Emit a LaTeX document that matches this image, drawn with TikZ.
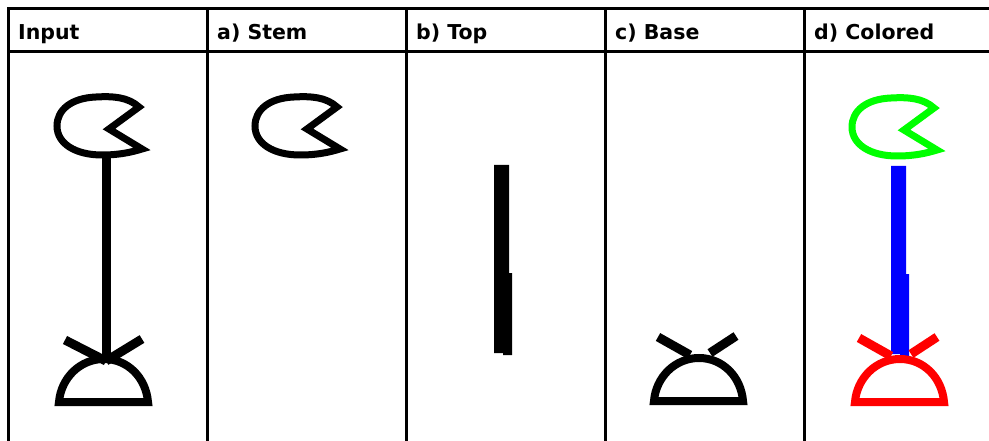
\documentclass[tikz,border=0pt]{standalone}
\usepackage{fontspec}
\setmainfont{DejaVu Sans}
\definecolor{pureGreen}{RGB}{0,255,0}
\definecolor{pureBlue}{RGB}{0,0,255}
\definecolor{pureRed}{RGB}{255,0,0}
\begin{document}
\begin{tikzpicture}[x=1pt,y=-1pt,
  grid/.style={line width=3pt, black},
  hdr/.style={anchor=base west, inner sep=0pt, font=\bfseries\fontsize{20.5}{24}\selectfont},
  headline/.style={line width=7pt, line join=miter},
  rod/.style={line width=9pt},
  armline/.style={line width=9pt},
  domeline/.style={line width=8pt, line join=miter},
  % the round head with its notch
  pics/head/.style={code={
    \draw[headline,#1] (131,107) .. controls (120,97) and (105,96) .. (88,97)
      .. controls (63,98) and (49,110) .. (49,126)
      .. controls (49,144) and (68,155) .. (94,155)
      .. controls (112,155) and (124,152) .. (134,149)
      -- (101,129) -- cycle;}},
  pics/head/.default=black,
  % the thick upright bar
  pics/bar/.style={code={
    \fill[#1] (88,165) -- (103,165) -- (103,273) -- (106,273) -- (106,355)
      -- (97,355) -- (97,353) -- (88,353) -- cycle;}},
  pics/bar/.default=black,
  % the dome with its flat base
  pics/dome/.style={code={
    \draw[domeline,#1] (51,402) -- (140,402)
      .. controls (138,378) and (120,359) .. (96,359)
      .. controls (72,359) and (53,378) .. cycle;}},
  pics/dome/.default=black,
  % the two arms above the dome, apart
  pics/arms/.style={code={
    \draw[armline,#1] (55,338) -- (87,356);
    \draw[armline,#1] (133,337) -- (107,354);}},
  pics/arms/.default=black
]
\useasboundingbox (0,0) rectangle (989,441);

% table frame
\draw[grid] (8,441) -- (8,8.5) -- (989,8.5);
\draw[grid] (8,52) -- (989,52);
\foreach \cx in {207,406,605,804}
  \draw[grid] (\cx,8.5) -- (\cx,441);

% column headers
\node[hdr] (hInput)   at (18,39.5)  {Input};
\node[hdr] (hStem)    at (217,39.5) {a) Stem};
\node[hdr] (hTop)     at (416,39.5) {b) Top};
\node[hdr] (hBase)    at (615,39.5) {c) Base};
\node[hdr] (hColored) at (814,39.5) {d) Colored};

% Input: the whole figure
\begin{scope}[shift={(8,0)}]
  \pic {head};
  \draw[rod] (98,156) -- (98,360);
  \draw[armline] (57,340) -- (98,361);
  \draw[armline] (134,339) -- (98,361);
  \pic {dome};
\end{scope}

% a) the head alone
\pic at (206,0) {head};

% b) the upright bar alone
\pic at (406,0) {bar};

% c) arms and dome
\pic at (603,-1) {arms};
\pic at (603,-1) {dome};

% d) the parts in colour
\pic at (803,1) {head=pureGreen};
\pic at (803,1) {bar=pureBlue};
\pic at (804,0) {arms=pureRed};
\pic at (804,0) {dome=pureRed};
\end{tikzpicture}
\end{document}
